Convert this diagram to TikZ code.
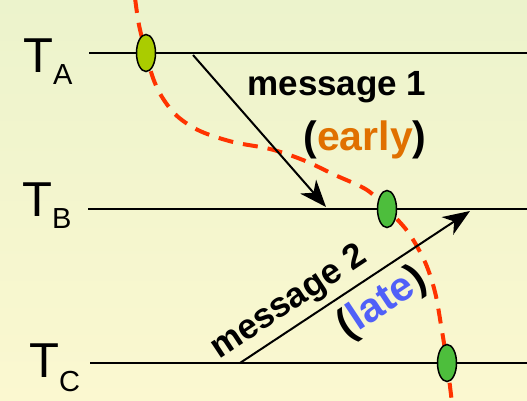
\documentclass[tikz,border=0pt]{standalone}
\usepackage{fontspec}
\setmainfont{Liberation Sans}
\usetikzlibrary{arrows.meta}
\definecolor{bgtop}{RGB}{236,243,204}
\definecolor{bgbot}{RGB}{251,248,208}
\definecolor{dashred}{RGB}{255,51,0}
\definecolor{evA}{RGB}{170,204,0}
\definecolor{evB}{RGB}{77,190,60}
\definecolor{earlyc}{RGB}{224,112,0}
\definecolor{latec}{RGB}{80,96,248}
\tikzset{
  timeline/.style={line width=2.2pt},
  msgarrow/.style={line width=2pt,-{Stealth[length=27pt,width=21pt,inset=8pt]}},
  cut/.style={dashred,line width=4pt,dash pattern=on 15pt off 10pt},
  event/.style={ellipse,draw=black,line width=1.5pt,minimum width=19pt,minimum height=37pt,inner sep=0pt},
  tlab/.style={inner sep=0pt,anchor=base west,font=\fontsize{49}{49}\selectfont},
  tsub/.style={inner sep=0pt,anchor=base west,font=\fontsize{29}{29}\selectfont},
  msgtxt/.style={inner sep=0pt,anchor=base,font=\bfseries\fontsize{35}{35}\selectfont},
  notetxt/.style={inner sep=0pt,anchor=base,font=\bfseries\fontsize{41}{41}\selectfont},
}
\usetikzlibrary{shapes.geometric}
\begin{document}
\begin{tikzpicture}[x=1pt,y=-1pt]
\shade[top color=bgtop,bottom color=bgbot] (0,0) rectangle (527,401);
\useasboundingbox (0,0) rectangle (527,401);
% coordinates
\coordinate (eA) at (146,53);
\coordinate (eB) at (387,209);
\coordinate (eC) at (447,363);
\coordinate (aS) at (89,53);  \coordinate (aE) at (527,53);
\coordinate (bS) at (88,209); \coordinate (bE) at (527,209);
\coordinate (cS) at (90,363); \coordinate (cE) at (527,363);
\coordinate (m1s) at (193,55); \coordinate (m1e) at (326,207);
\coordinate (m2s) at (240,363); \coordinate (m2e) at (470,211);
% timelines
\draw[timeline] (aS) -- (aE);
\draw[timeline] (bS) -- (bE);
\draw[timeline] (cS) -- (cE);
% labels
\node[tlab] (TA) at (23,73) {T};
\node[tsub] (TAs) at (53,85) {A};
\node[tlab] (TB) at (22,216) {T};
\node[tsub] (TBs) at (52,228) {B};
\node[tlab] (TC) at (29,377) {T};
\node[tsub] (TCs) at (59,391) {C};
% cut
\draw[cut] plot[smooth,tension=0.55] coordinates {(135,-2) (139,25) (eA) (153,78) (162,97) (177,116) (200,131) (233,142) (270,149) (303,160) (335,175) (367,190) (eB) (408,232) (425,262) (435,292) (441,325) (eC) (452,403)};
% messages
\draw[msgarrow] (m1s) -- (m1e);
\draw[msgarrow] (m2s) -- (m2e);
\node[msgtxt] (t1) at (337,96) {message 1};
\node[notetxt] (e1) at (365,150) {(\textcolor{earlyc}{early})};
\node[msgtxt,rotate=33.5] (t2) at (294,310) {message 2};
\node[notetxt,rotate=33.5] (l2) at (388,312) {(\textcolor{latec}{late})};
% events
\node[event,fill=evA] (EA) at (eA) {};
\node[event,fill=evB] (EB) at (eB) {};
\node[event,fill=evB] (EC) at (eC) {};
\end{tikzpicture}
\end{document}
